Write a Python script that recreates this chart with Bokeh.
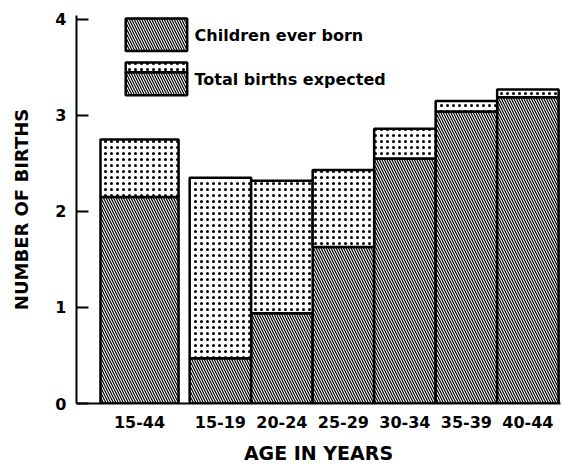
from bokeh.plotting import figure
from bokeh.models import ColumnDataSource, FixedTicker, Range1d, Label
from bokeh.embed import file_html
from bokeh.resources import INLINE

# ---- data ----
groups = ["15-44", "15-19", "20-24", "25-29", "30-34", "35-39", "40-44"]
children_born = [2.15, 0.47, 0.94, 1.63, 2.55, 3.04, 3.19]
total_expected = [2.75, 2.35, 2.32, 2.43, 2.86, 3.15, 3.27]
y_ticks = [0, 1, 2, 3, 4]
legend_labels = ["Children ever born", "Total births expected"]

# ---- layout (x in units of one age-group bar width) ----
first_center, first_width = 1.025, 1.27
group_start = 1.84
centers = [first_center] + [group_start + 0.5 + i for i in range(len(groups) - 1)]
widths = [first_width] + [1.0] * (len(groups) - 1)

src = ColumnDataSource(dict(x=centers, w=widths, born=children_born,
                            expected=total_expected, zero=[0] * len(groups)))

FONT = "DejaVu Sans"
HATCH = dict(fill_color="white", hatch_pattern="\\", hatch_color="black",
             hatch_scale=5, hatch_weight=1.2)
DOTS = dict(fill_color="white", hatch_pattern=".", hatch_color="black",
            hatch_scale=6, hatch_weight=1)

p = figure(width=562, height=467, output_backend="svg", toolbar_location=None,
           x_range=Range1d(0, 7.87), y_range=Range1d(0, 4.04),
           min_border_left=76, min_border_right=2, min_border_top=15,
           min_border_bottom=64)
p.outline_line_color = None
p.xgrid.visible = False
p.ygrid.visible = False

p.vbar(x="x", width="w", bottom="zero", top="born", source=src,
       line_color="black", line_width=2.5, **HATCH)
p.vbar(x="x", width="w", bottom="born", top="expected", source=src,
       line_color="black", line_width=2.5, **DOTS)

# ---- legend drawn manually ----
lx0, lx1 = 0.80, 1.80
p.quad(left=[lx0], right=[lx1], bottom=[3.67], top=[4.01],
       line_color="black", line_width=2.5, **HATCH)
p.quad(left=[lx0], right=[lx1], bottom=[3.21], top=[3.45],
       line_color="black", line_width=2.5, **HATCH)
p.quad(left=[lx0], right=[lx1], bottom=[3.45], top=[3.55],
       line_color="black", line_width=2.5, **DOTS)
for txt, yy in zip(legend_labels, [3.835, 3.375]):
    p.add_layout(Label(x=1.92, y=yy, text=txt, text_font=FONT,
                       text_font_style="bold", text_font_size="16px",
                       text_baseline="middle", text_color="black"))

# ---- axes ----
xa = p.xaxis[0]
xa.ticker = FixedTicker(ticks=centers)
xa.major_label_overrides = {c: g for c, g in zip(centers, groups)}
xa.major_tick_in = 0
xa.major_tick_out = 0
xa.minor_tick_line_color = None
xa.axis_line_width = 2
xa.major_label_standoff = 12
xa.major_label_text_font = FONT
xa.major_label_text_font_style = "bold"
xa.major_label_text_font_size = "16px"
xa.major_label_text_color = "black"
xa.axis_label = "AGE IN YEARS"
xa.axis_label_text_font = FONT
xa.axis_label_text_font_style = "bold"
xa.axis_label_text_font_size = "19px"
xa.axis_label_text_color = "black"
xa.axis_label_standoff = 11

ya = p.yaxis[0]
ya.ticker = FixedTicker(ticks=y_ticks)
ya.major_tick_in = 12
ya.major_tick_out = 0
ya.major_tick_line_width = 2
ya.minor_tick_line_color = None
ya.axis_line_width = 2
ya.major_label_standoff = 10
ya.major_label_text_font = FONT
ya.major_label_text_font_style = "bold"
ya.major_label_text_font_size = "16px"
ya.major_label_text_color = "black"
ya.axis_label = "NUMBER OF BIRTHS"
ya.axis_label_text_font = FONT
ya.axis_label_text_font_style = "bold"
ya.axis_label_text_font_size = "18px"
ya.axis_label_text_color = "black"
ya.axis_label_standoff = 20

open("out.html", "w").write(file_html(p, INLINE))
